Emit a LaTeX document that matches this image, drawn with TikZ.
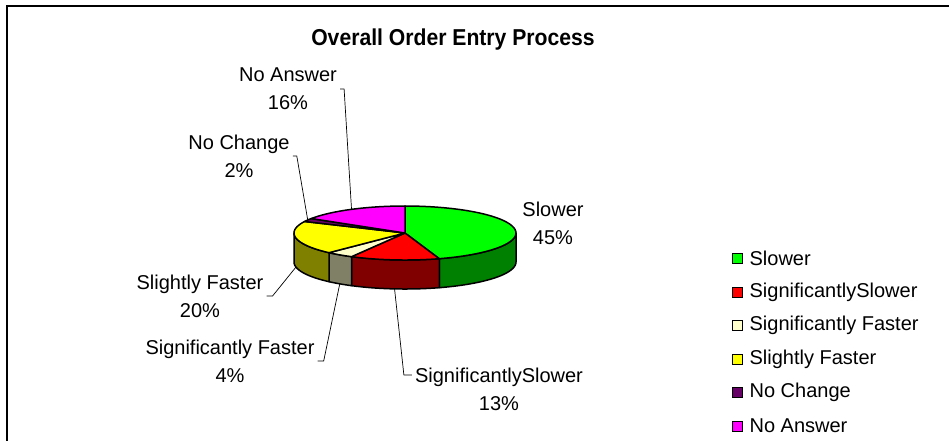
\documentclass[tikz,border=0pt]{standalone}
\usepackage{fontspec}
\setmainfont{Liberation Sans}
\usetikzlibrary{positioning}
\definecolor{slowtop}{HTML}{00FF00}
\definecolor{slowside}{HTML}{008000}
\definecolor{sigslowtop}{HTML}{FF0000}
\definecolor{sigslowside}{HTML}{800000}
\definecolor{sigfasttop}{HTML}{FFFFCC}
\definecolor{sigfastside}{HTML}{808066}
\definecolor{slighttop}{HTML}{FFFF00}
\definecolor{slightside}{HTML}{808000}
\definecolor{nochg}{HTML}{660066}
\definecolor{noans}{HTML}{FF00FF}
\tikzset{wedge/.style={draw=black,line width=1.5pt,line join=round}}
\tikzset{leader/.style={draw=black,line width=0.7pt}}
\tikzset{tag/.style={align=center,inner xsep=3pt,inner ysep=0pt,font=\fontsize{20}{28}\selectfont}}
\tikzset{legbox/.style={draw=black,line width=0.8pt,minimum size=10pt,inner sep=0pt}}
\tikzset{legtext/.style={inner sep=0pt,font=\fontsize{20}{24}\selectfont}}
\def\pieX{405}
\def\pieY{233}
\def\pieRX{111}
\def\pieRY{27}
\def\pieD{29}
% top of a slice, angles run clockwise from #1 to #2
\newcommand{\topslice}[3]{%
  \filldraw[fill=#3,wedge] (\pieX,\pieY) -- plot[domain=#1:#2,samples=40,variable=\t]
    ({\pieX+\pieRX*cos(\t)},{\pieY-\pieRY*sin(\t)}) -- cycle;}
% rim of a slice on the front half
\newcommand{\sideslice}[3]{%
  \filldraw[fill=#3,wedge] plot[domain=#1:#2,samples=30,variable=\t]
    ({\pieX+\pieRX*cos(\t)},{\pieY-\pieRY*sin(\t)})
    -- plot[domain=#2:#1,samples=30,variable=\t]
    ({\pieX+\pieRX*cos(\t)},{\pieY-\pieRY*sin(\t)+\pieD}) -- cycle;}
\begin{document}
\begin{tikzpicture}[x=1pt,y=-1pt]
        \useasboundingbox (0,0) rectangle (949,440);
        \draw[line width=2.6pt] (7,460) -- (7,6) -- (970,6);

        \node[font=\fontsize{23}{28}\selectfont\bfseries,xscale=0.92] (title) at (453,40) {Overall Order Entry Process};

        \sideslice{0}{-72}{slowside}
        \sideslice{-72}{-118.8}{sigslowside}
        \sideslice{-118.8}{-133.2}{sigfastside}
        \sideslice{-133.2}{-180}{slightside}

        \topslice{90}{-72}{slowtop}
        \topslice{-72}{-118.8}{sigslowtop}
        \topslice{-118.8}{-133.2}{sigfasttop}
        \topslice{-133.2}{-205.2}{slighttop}
        \topslice{-205.2}{-212.4}{nochg}
        \topslice{-212.4}{-270}{noans}

        \coordinate (pNoAns) at ({\pieX+\pieRX*cos(118.8)},{\pieY-\pieRY*sin(118.8)});
        \coordinate (pNoChg) at ({\pieX+\pieRX*cos(151.2)},{\pieY-\pieRY*sin(151.2)});
        \coordinate (pSlight) at ({\pieX+\pieRX*cos(190.8)},{\pieY-\pieRY*sin(190.8)+\pieD});
        \coordinate (pSigFast) at ({\pieX+\pieRX*cos(-126)},{\pieY-\pieRY*sin(-126)+\pieD});
        \coordinate (pSigSlow) at ({\pieX+\pieRX*cos(-95.4)},{\pieY-\pieRY*sin(-95.4)+\pieD});

        \node[tag] (lslow) at (553,223) {Slower\\45\%};
        \node[tag] (lnoans) at (288,89) {No Answer\\16\%};
        \node[tag] (lnochg) at (239,156) {No Change\\2\%};
        \node[tag] (lslight) at (200,296) {Slightly Faster\\20\%};
        \node[tag] (lsigfast) at (230,361) {Significantly Faster\\4\%};
        \node[tag] (lsigslow) at (499,389) {SignificantlySlower\\13\%};

        \draw[leader] (lnoans.east) -- ++(4,0) -- (pNoAns);
        \draw[leader] (lnochg.east) -- ++(4,0) -- (pNoChg);
        \draw[leader] (lslight.east) -- ++(6,0) -- (pSlight);
        \draw[leader] (lsigfast.east) -- ++(6,0) -- (pSigFast);
        \draw[leader] ([yshift=14pt]lsigslow.west) -- ++(-8,0) -- (pSigSlow);

        \node[legbox,fill=slowtop] (kslow) at (737,258) {};
        \node[legbox,fill=sigslowtop] (ksigslow) at (737,292) {};
        \node[legbox,fill=sigfasttop] (ksigfast) at (737,325) {};
        \node[legbox,fill=slighttop] (kslight) at (737,359) {};
        \node[legbox,fill=nochg] (knochg) at (737,392) {};
        \node[legbox,fill=noans] (knoans) at (737,426) {};
        \node[legtext,right=7pt of kslow] (tslow) {Slower};
        \node[legtext,right=7pt of ksigslow] (tsigslow) {SignificantlySlower};
        \node[legtext,right=7pt of ksigfast] (tsigfast) {Significantly Faster};
        \node[legtext,right=7pt of kslight] (tslight) {Slightly Faster};
        \node[legtext,right=7pt of knochg] (tnochg) {No Change};
        \node[legtext,right=7pt of knoans] (tnoans) {No Answer};
    \end{tikzpicture}
\end{document}
